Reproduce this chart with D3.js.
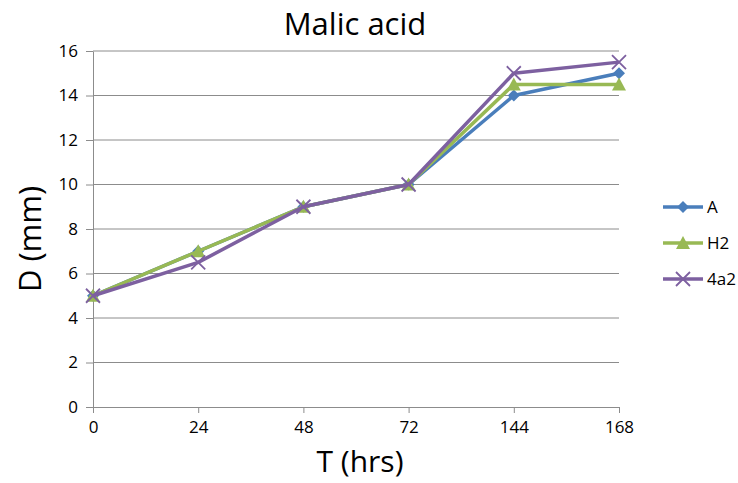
<!DOCTYPE html>
<html>
<head>
<meta charset="utf-8">
<script src="https://cdnjs.cloudflare.com/ajax/libs/d3/7.8.5/d3.min.js"></script>
<style>
body { margin: 0; background: #fff; }
text { font-family: "Open Sans", "Noto Sans", sans-serif; }
</style>
</head>
<body>
<svg width="738" height="483"></svg>
<script>
var categories = ["0", "24", "48", "72", "144", "168"];
var seriesNames = ["A", "H2", "4a2"];
var valuesA = [5, 7, 9, 10, 14, 15];
var valuesH2 = [5, 7, 9, 10, 14.5, 14.5];
var values4a2 = [5, 6.5, 9, 10, 15, 15.5];
var yTicks = [0, 2, 4, 6, 8, 10, 12, 14, 16];

var colors = ["#4a7ebb", "#98b954", "#7d60a0"];
var series = [valuesA, valuesH2, values4a2].map(function(v, i) {
    return { name: seriesNames[i], values: v, color: colors[i] };
});

var svg = d3.select("svg");
var plotLeft = 93, plotRight = 619, plotTop = 51, plotBottom = 407;

var x = d3.scalePoint().domain(categories).range([plotLeft, plotRight]);
var y = d3.scaleLinear().domain([0, 16]).range([plotBottom, plotTop]);

// gridlines
svg.append("g").selectAll("line")
    .data(yTicks.filter(function(d) { return d > 0; }))
    .enter().append("line")
    .attr("x1", plotLeft).attr("x2", plotRight)
    .attr("y1", function(d) { return y(d); })
    .attr("y2", function(d) { return y(d); })
    .attr("stroke", "#8c8c8c").attr("stroke-width", 1);

// y axis
var yAxis = svg.append("g")
    .attr("transform", "translate(" + plotLeft + ",0)")
    .call(d3.axisLeft(y).tickValues(yTicks).tickSize(7).tickSizeOuter(0).tickPadding(8));
yAxis.select(".domain").attr("stroke", "#8c8c8c");
yAxis.selectAll(".tick line").attr("stroke", "#8c8c8c");
yAxis.selectAll("text").attr("font-size", 17).attr("fill", "#000")
    .style("font-family", "'Open Sans', sans-serif");

// x axis
var xAxis = svg.append("g")
    .attr("transform", "translate(0," + plotBottom + ")")
    .call(d3.axisBottom(x).tickSize(6).tickSizeOuter(0).tickPadding(8));
xAxis.select(".domain").attr("stroke", "#8c8c8c");
xAxis.selectAll(".tick line").attr("stroke", "#8c8c8c");
xAxis.selectAll("text").attr("font-size", 17).attr("fill", "#000")
    .style("font-family", "'Open Sans', sans-serif");

var line = d3.line()
    .x(function(d, i) { return x(categories[i]); })
    .y(function(d) { return y(d); });

function drawMarker(g, name, color, cx, cy) {
    if (name === "A") {
        g.append("path")
            .attr("d", "M0,-6L6,0L0,6L-6,0Z")
            .attr("transform", "translate(" + cx + "," + cy + ")")
            .attr("fill", color);
    } else if (name === "H2") {
        g.append("path")
            .attr("d", "M0,-7L7,6L-7,6Z")
            .attr("transform", "translate(" + cx + "," + cy + ")")
            .attr("fill", color);
    } else {
        g.append("path")
            .attr("d", "M-7,-7L7,7M-7,7L7,-7")
            .attr("transform", "translate(" + cx + "," + cy + ")")
            .attr("stroke", color).attr("stroke-width", 1.8).attr("fill", "none");
    }
}

series.forEach(function(s) {
    var g = svg.append("g");
    g.append("path")
        .datum(s.values)
        .attr("d", line)
        .attr("fill", "none")
        .attr("stroke", s.color)
        .attr("stroke-width", 3.5)
        .attr("stroke-linejoin", "round");
    s.values.forEach(function(v, i) {
        drawMarker(g, s.name, s.color, x(categories[i]), y(v));
    });
});

// legend
var legend = svg.append("g");
series.forEach(function(s, i) {
    var ly = 207 + i * 36;
    legend.append("line")
        .attr("x1", 663).attr("x2", 703)
        .attr("y1", ly).attr("y2", ly)
        .attr("stroke", s.color).attr("stroke-width", 3.5);
    drawMarker(legend, s.name, s.color, 683, ly);
    legend.append("text")
        .attr("x", 707).attr("y", ly + 6)
        .attr("font-size", 17)
        .text(s.name);
});

// titles
svg.append("text")
    .attr("x", 355).attr("y", 35)
    .attr("text-anchor", "middle")
    .attr("font-size", 31)
    .text("Malic acid");

svg.append("text")
    .attr("x", 360).attr("y", 472)
    .attr("text-anchor", "middle")
    .attr("font-size", 30)
    .text("T (hrs)");

svg.append("text")
    .attr("transform", "translate(41,239) rotate(-90)")
    .attr("text-anchor", "middle")
    .attr("font-size", 31)
    .text("D (mm)");
</script>
</body>
</html>
